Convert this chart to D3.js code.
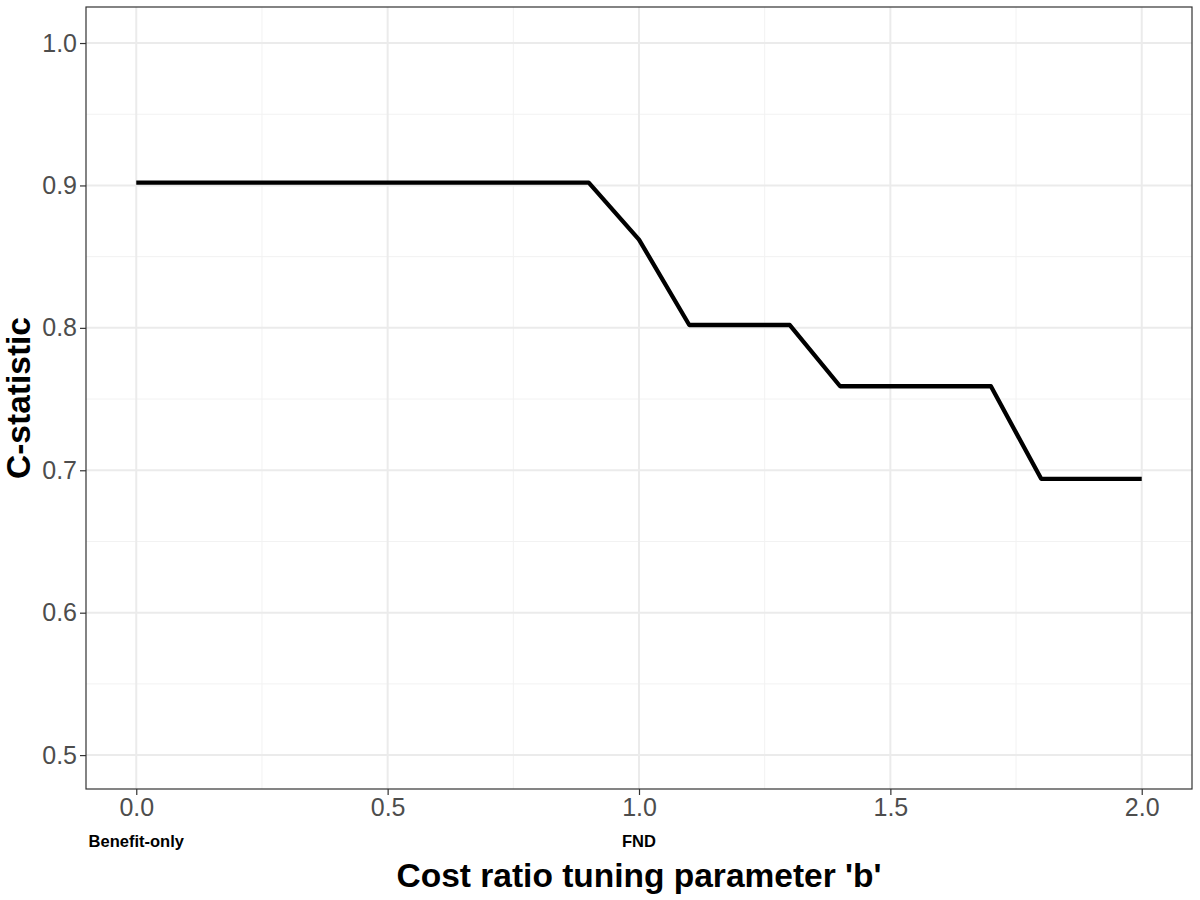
<!DOCTYPE html>
<html>
<head>
<meta charset="utf-8">
<script src="https://cdn.jsdelivr.net/npm/d3@7"></script>
<style>
  body { margin: 0; background: #fff; }
  text { font-family: "Liberation Sans", Arial, sans-serif; }
</style>
</head>
<body>
<div id="chart"></div>
<script>
// chart data
var bValues = [0.0, 0.1, 0.2, 0.3, 0.4, 0.5, 0.6, 0.7, 0.8, 0.9, 1.0,
               1.1, 1.2, 1.3, 1.4, 1.5, 1.6, 1.7, 1.8, 1.9, 2.0];
var cStat = [0.902, 0.902, 0.902, 0.902, 0.902, 0.902, 0.902, 0.902, 0.902, 0.902, 0.862,
             0.802, 0.802, 0.802, 0.759, 0.759, 0.759, 0.759, 0.694, 0.694, 0.694];
var xTicks = [0.0, 0.5, 1.0, 1.5, 2.0];
var yTicks = [0.5, 0.6, 0.7, 0.8, 0.9, 1.0];
var xMinor = [0.25, 0.75, 1.25, 1.75];
var yMinor = [0.55, 0.65, 0.75, 0.85, 0.95];
var extraLabels = [{ b: 0.0, label: "Benefit-only" }, { b: 1.0, label: "FND" }];

function init() {
    var w = 1200, h = 900;
    var left = 86, right = 1192, top = 7, bottom = 789;

    var svg = d3.select("#chart").append("svg")
        .attr("width", w).attr("height", h);

    var xScale = d3.scaleLinear().domain([-0.1, 2.1]).range([left, right]);
    var yScale = d3.scaleLinear().domain([0.4762, 1.0253]).range([bottom, top]);

    // minor grid
    svg.append("g").selectAll("line").data(xMinor).enter().append("line")
        .attr("x1", d => xScale(d)).attr("x2", d => xScale(d))
        .attr("y1", top).attr("y2", bottom)
        .attr("stroke", "#f2f2f2").attr("stroke-width", 1);
    svg.append("g").selectAll("line").data(yMinor).enter().append("line")
        .attr("x1", left).attr("x2", right)
        .attr("y1", d => yScale(d)).attr("y2", d => yScale(d))
        .attr("stroke", "#f2f2f2").attr("stroke-width", 1);

    // major grid
    svg.append("g").selectAll("line").data(xTicks).enter().append("line")
        .attr("x1", d => xScale(d)).attr("x2", d => xScale(d))
        .attr("y1", top).attr("y2", bottom)
        .attr("stroke", "#ebebeb").attr("stroke-width", 2);
    svg.append("g").selectAll("line").data(yTicks).enter().append("line")
        .attr("x1", left).attr("x2", right)
        .attr("y1", d => yScale(d)).attr("y2", d => yScale(d))
        .attr("stroke", "#ebebeb").attr("stroke-width", 2);

    // line
    var line = d3.line()
        .x((d, i) => xScale(bValues[i]))
        .y(d => yScale(d));
    svg.append("path")
        .datum(cStat)
        .attr("fill", "none")
        .attr("stroke", "#000")
        .attr("stroke-width", 4.3)
        .attr("stroke-linejoin", "round")
        .attr("d", line);

    // panel border
    svg.append("rect")
        .attr("x", left).attr("y", top)
        .attr("width", right - left).attr("height", bottom - top)
        .attr("fill", "none").attr("stroke", "#333").attr("stroke-width", 1.2);

    // X axis
    var xAxis = svg.append("g")
        .attr("transform", "translate(0," + bottom + ")")
        .call(d3.axisBottom(xScale).tickValues(xTicks).tickFormat(d3.format(".1f"))
              .tickSize(6).tickPadding(3));
    xAxis.select(".domain").remove();
    xAxis.selectAll(".tick line").attr("stroke", "#333").attr("stroke-width", 1.2);
    xAxis.selectAll(".tick text").attr("fill", "#4d4d4d").style("font-size", "25px")
        .style("font-family", "Liberation Sans, Arial, sans-serif");

    // Y axis
    var yAxis = svg.append("g")
        .attr("transform", "translate(" + left + ",0)")
        .call(d3.axisLeft(yScale).tickValues(yTicks).tickFormat(d3.format(".1f"))
              .tickSize(6).tickPadding(3));
    yAxis.select(".domain").remove();
    yAxis.selectAll(".tick line").attr("stroke", "#333").attr("stroke-width", 1.2);
    yAxis.selectAll(".tick text").attr("fill", "#4d4d4d").style("font-size", "25px")
        .style("font-family", "Liberation Sans, Arial, sans-serif");

    // secondary labels under x ticks
    svg.append("g").selectAll("text").data(extraLabels).enter().append("text")
        .attr("x", d => xScale(d.b))
        .attr("y", 847)
        .attr("text-anchor", "middle")
        .attr("font-weight", "bold")
        .attr("font-size", "16.5px")
        .attr("fill", "#000")
        .text(d => d.label);

    // axis titles
    svg.append("text")
        .attr("x", (left + right) / 2)
        .attr("y", 887)
        .attr("text-anchor", "middle")
        .attr("font-weight", "bold")
        .attr("font-size", "33.5px")
        .text("Cost ratio tuning parameter 'b'");

    svg.append("text")
        .attr("transform", "translate(30," + ((top + bottom) / 2) + ") rotate(-90)")
        .attr("text-anchor", "middle")
        .attr("font-weight", "bold")
        .attr("font-size", "33.5px")
        .text("C-statistic");
}

window.onload = init;
</script>
</body>
</html>
